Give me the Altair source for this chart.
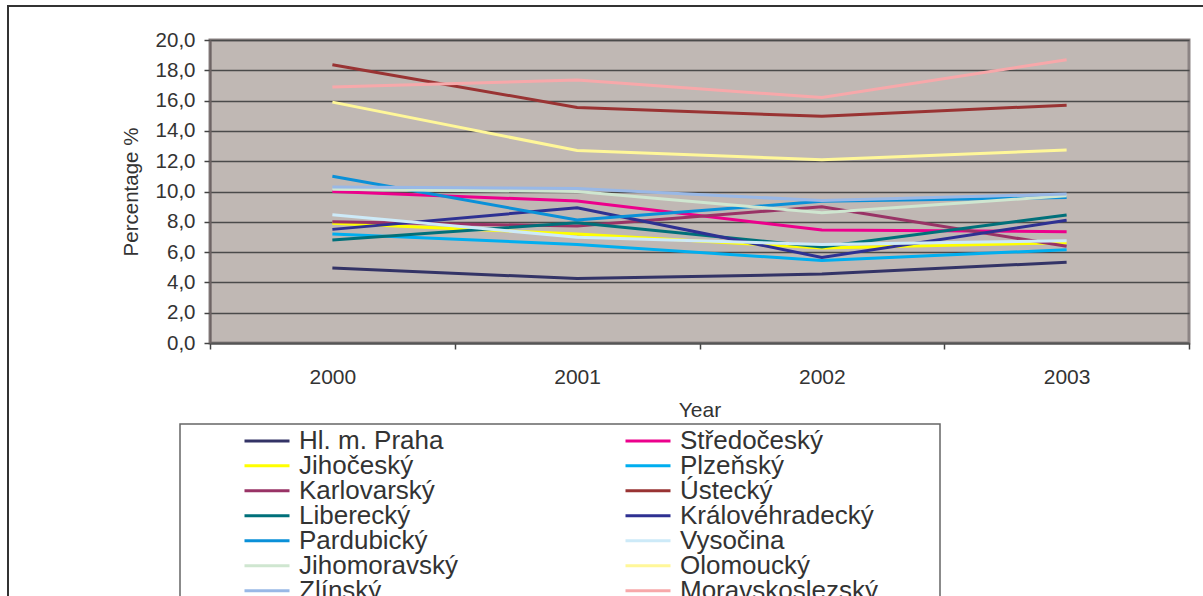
import altair as alt
import pandas as pd

# Unemployment rate by Czech region, 2000-2003 (%)
years = ["2000", "2001", "2002", "2003"]

regions = [
    "Hl. m. Praha", "Středočeský", "Jihočeský", "Plzeňský",
    "Karlovarský", "Ústecký", "Liberecký", "Královéhradecký",
    "Pardubický", "Vysočina", "Jihomoravský", "Olomoucký",
    "Zlínský", "Moravskoslezský",
]

praha = [4.95, 4.25, 4.55, 5.33]
stredocesky = [10.0, 9.37, 7.46, 7.35]
jihocesky = [7.9, 7.2, 6.27, 6.62]
plzensky = [7.2, 6.5, 5.45, 6.16]
karlovarsky = [8.0, 7.72, 9.0, 6.38]
ustecky = [18.37, 15.55, 14.96, 15.7]
liberecky = [6.8, 7.94, 6.34, 8.45]
kralovehradecky = [7.5, 8.93, 5.65, 8.1]
pardubicky = [11.0, 8.12, 9.35, 9.6]
vysocina = [8.47, 6.98, 6.5, 6.75]
jihomoravsky = [10.15, 10.0, 8.6, 9.72]
olomoucky = [15.9, 12.7, 12.1, 12.74]
zlinsky = [10.3, 10.2, 9.4, 9.83]
moravskoslezsky = [16.9, 17.36, 16.2, 18.7]

series = [
    praha, stredocesky, jihocesky, plzensky, karlovarsky, ustecky,
    liberecky, kralovehradecky, pardubicky, vysocina, jihomoravsky,
    olomoucky, zlinsky, moravskoslezsky,
]

colors = [
    "#333366", "#ec008c", "#ffff00", "#00aeef", "#993366", "#993333",
    "#00707a", "#2e3192", "#0a90d8", "#cdeaf8", "#cfe6d0", "#fff799",
    "#99b8e6", "#f7a8aa",
]

rows = []
for i, (name, vals) in enumerate(zip(regions, series)):
    for yr, v in zip(years, vals):
        rows.append({"Region": name, "Year": yr, "Percentage": v, "idx": i})
df = pd.DataFrame(rows)

# The legend grid fills column by column; reorder so the entries read
# left-to-right, row by row, in the regions' standard order.
legend_order = regions[0::2] + regions[1::2]
color_by_region = dict(zip(regions, colors))
legend_colors = [color_by_region[r] for r in legend_order]

font = "Liberation Sans"
text_color = "#333333"

lines = alt.Chart(df).mark_line(strokeWidth=3).encode(
    x=alt.X(
        "Year:O",
        sort=years,
        bandPosition=0.5,
        scale=alt.Scale(type="band", paddingInner=0, paddingOuter=0),
        axis=alt.Axis(
            title="Year",
            labelAngle=0,
            tickBand="extent",
            tickSize=6,
            tickColor="#444444",
            tickWidth=1.5,
            domainColor="#555555",
            domainWidth=2,
            grid=False,
            labelFontSize=21,
            labelPadding=17,
            titleFontSize=21,
            titlePadding=12,
        ),
    ),
    y=alt.Y(
        "Percentage:Q",
        scale=alt.Scale(domain=[0, 20], nice=False),
        axis=alt.Axis(
            title="Percentage %",
            values=list(range(0, 21, 2)),
            labelExpr="replace(format(datum.value, '.1f'), '.', ',')",
            tickSize=6,
            tickColor="#444444",
            tickWidth=1.5,
            domainColor="#6e6464",
            domainWidth=2,
            gridColor="#4a4a4a",
            gridWidth=1.5,
            labelFontSize=20.5,
            labelPadding=9,
            titleFontSize=20.5,
            titlePadding=14,
        ),
    ),
    color=alt.Color(
        "Region:N",
        sort=legend_order,
        scale=alt.Scale(domain=legend_order, range=legend_colors),
        legend=alt.Legend(
            title=None,
            orient="none",
            legendX=33,
            legendY=389,
            columns=2,
            padding=0,
            symbolType="stroke",
            symbolSize=2025,
            symbolStrokeWidth=3,
            labelOffset=8,
            labelFontSize=26,
            labelFont=font,
            labelColor=text_color,
            labelLimit=400,
            clipHeight=23.5,
            rowPadding=-6,
            columnPadding=166,
        ),
    ),
    order=alt.Order("idx:Q"),
)

# Outer chart frame and legend box
box_data = pd.DataFrame({"k": [0]})
outer = alt.Chart(box_data).mark_rect(
    fillOpacity=0, stroke="#333333", strokeWidth=2
).encode(
    x=alt.value(-202), x2=alt.value(1010), y=alt.value(-34), y2=alt.value(600)
)
legend_box = alt.Chart(box_data).mark_rect(
    fill="white", stroke="#666666", strokeWidth=1.5
).encode(
    x=alt.value(-30), x2=alt.value(730), y=alt.value(384), y2=alt.value(600)
)

chart = alt.layer(outer, legend_box, lines).properties(
    width=979,
    height=303,
    autosize="none",
    padding={"left": 210, "top": 40, "right": 14, "bottom": 253},
    background="white",
).configure_view(
    fill="#c0b8b4", stroke="#8c8484", strokeWidth=3
).configure_axis(
    labelFont=font,
    titleFont=font,
    labelColor=text_color,
    titleColor=text_color,
    titleFontWeight="normal",
)

chart.save("out.html", embed_options={"renderer": "svg", "actions": False})
